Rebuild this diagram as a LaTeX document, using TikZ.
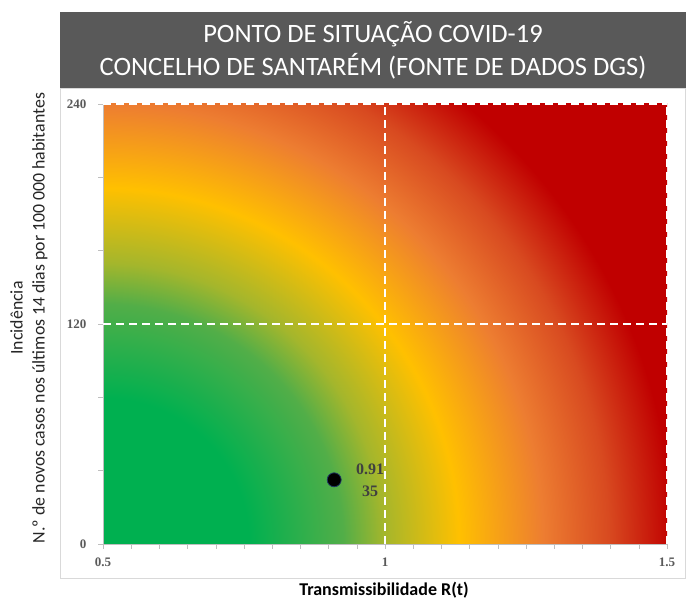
\documentclass[tikz,border=0pt]{standalone}
\usepackage{fontspec}
\setmainfont{Carlito}
\newfontfamily\numfont{Liberation Serif}
\definecolor{titlegray}{HTML}{595959}
\definecolor{framegray}{HTML}{D9D9D9}
\definecolor{axisgray}{HTML}{BFBFBF}
\definecolor{labelgray}{HTML}{404040}
\definecolor{riskgreen}{HTML}{00B050}
\definecolor{midgreen}{HTML}{52AE48}
\definecolor{olivegreen}{HTML}{A4B62C}
\definecolor{riskyellow}{HTML}{FFC000}
\definecolor{riskorange}{HTML}{ED7D31}
\definecolor{redorange}{HTML}{D84A20}
\definecolor{riskred}{HTML}{C00000}
\definecolor{pointblue}{HTML}{203864}
\pgfdeclareradialshading{riskmap}{\pgfpointorigin}{color(0bp)=(riskgreen); color(4.56bp)=(riskgreen); color(7.5bp)=(midgreen); color(8.78bp)=(olivegreen); color(11.125bp)=(riskyellow); color(13.75bp)=(riskorange); color(15.8bp)=(redorange); color(17.8bp)=(riskred); color(50bp)=(riskred)}

\begin{document}
\begin{tikzpicture}[x=1pt, y=1pt]
			%%%%% START %%%%%
			
			\useasboundingbox (0, 0) rectangle (686, 600);
			\fill[white] (0, 0) rectangle (686, 600);
			
			\draw[color=framegray] (60.5, 22) rectangle (685.5, 512);
			\fill[titlegray] (60, 512) rectangle (686, 588);
			
			\node[anchor=base, text=white, font=\fontsize{26.5}{30}\selectfont] (titleA) at (373, 557) {PONTO DE SITUAÇÃO COVID-19};
			\node[anchor=base, text=white, font=\fontsize{26.5}{30}\selectfont] (titleB) at (373, 524) {CONCELHO DE SANTARÉM (FONTE DE DADOS DGS)};
			
			\begin{scope}
				\clip (103, 56) rectangle (667, 496);
				\shade[shading=riskmap] (-697, -744) rectangle (903, 856);
			\end{scope}
			
			\draw[color=axisgray] (103, 56) -- (103, 496);
			\draw[color=axisgray] (103, 56) -- (667, 56);
			\foreach \i in {0,...,20}
				\draw[color=axisgray] (103 + 28.2*\i, 56) -- (103 + 28.2*\i, 51);
			\foreach \j in {0,...,6}
				\draw[color=axisgray] (103, 56 + 73.333*\j) -- (98, 56 + 73.333*\j);
			
			\draw[line width=2pt, color=white, dash pattern=on 8pt off 5pt] (385, 56) -- (385, 496);
			\draw[line width=2pt, color=white, dash pattern=on 8pt off 5pt] (667, 56) -- (667, 496);
			\draw[line width=2pt, color=white, dash pattern=on 8pt off 5pt] (103, 276) -- (667, 276);
			\draw[line width=2pt, color=white, dash pattern=on 8pt off 5pt] (103, 496) -- (667, 496);
			
			\node[anchor=east, text=titlegray, font=\numfont\bfseries\fontsize{13}{14}\selectfont] (yA) at (90, 496) {240};
			\node[anchor=east, text=titlegray, font=\numfont\bfseries\fontsize{13}{14}\selectfont] (yB) at (90, 276) {120};
			\node[anchor=east, text=titlegray, font=\numfont\bfseries\fontsize{13}{14}\selectfont] (yC) at (90, 56) {0};
			\node[text=titlegray, font=\numfont\bfseries\fontsize{13}{14}\selectfont] (xA) at (103, 38) {0.5};
			\node[text=titlegray, font=\numfont\bfseries\fontsize{13}{14}\selectfont] (xB) at (385, 38) {1};
			\node[text=titlegray, font=\numfont\bfseries\fontsize{13}{14}\selectfont] (xC) at (667, 38) {1.5};
			
			\node[circle, fill=black, draw=pointblue, line width=0.8pt, minimum size=14pt, inner sep=0pt] (point) at (334.2, 120.2) {};
			\node[text=labelgray, font=\numfont\bfseries\fontsize{16}{18}\selectfont] (valR) at (370, 131) {0.91};
			\node[text=labelgray, font=\numfont\bfseries\fontsize{16}{18}\selectfont] (valI) at (370, 108.5) {35};
			
			\node[anchor=base, font=\bfseries\fontsize{18}{20}\selectfont] (xtitle) at (384, 4) {Transmissibilidade R(t)};
			\node[rotate=90, align=center, text=black!85, font=\fontsize{17.8}{22}\selectfont] (ytitle) at (29, 282) {Incidência\\N.º de novos casos nos últimos 14 dias por 100 000 habitantes};
			
			%%%%% END %%%%%
\end{tikzpicture}
\end{document}
